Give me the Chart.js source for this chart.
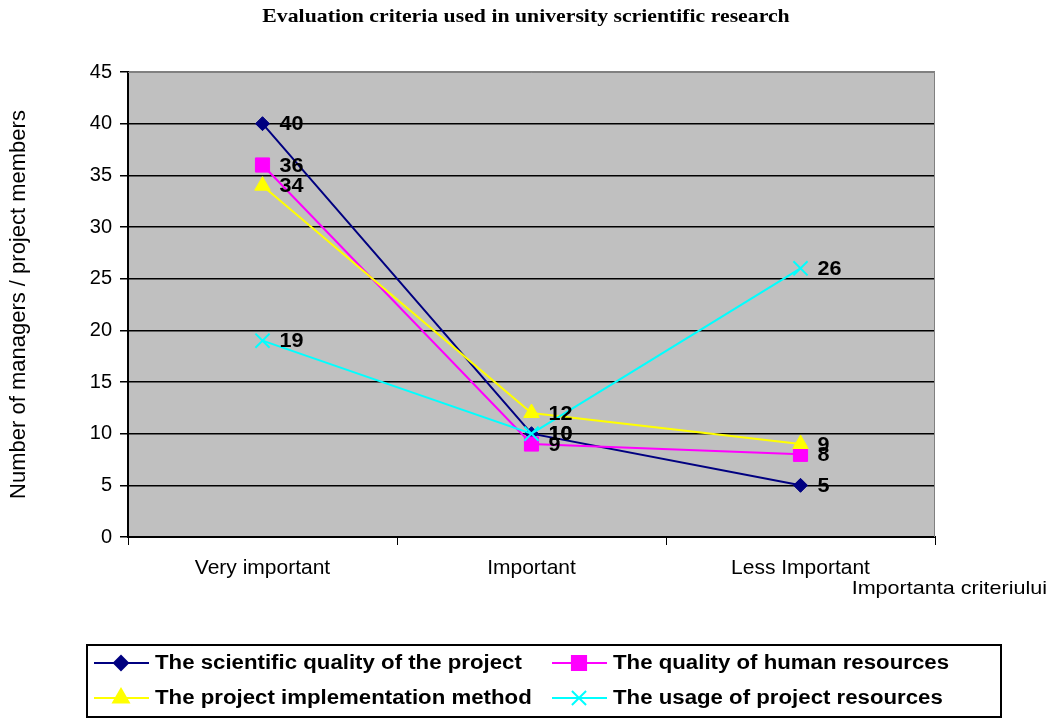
<!DOCTYPE html>
<html>
<head>
<meta charset="utf-8">
<script src="https://cdn.jsdelivr.net/npm/chart.js@4/dist/chart.umd.min.js"></script>
<style>
  html, body { margin: 0; padding: 0; background: #fff; }
  #wrap { width: 1053px; height: 719px; position: relative; }
</style>
</head>
<body>
<div id="wrap"><canvas id="chart" width="1053" height="719"></canvas></div>
<script>
// ---- data ----
const TITLE = 'Evaluation criteria used in university scrientific research';
const Y_TITLE = 'Number of managers / project members';
const X_TITLE = 'Importanta criteriului';
const categories = ['Very important', 'Important', 'Less Important'];

const seriesNames = [
    'The scientific quality of the project',
    'The quality of human resources',
    'The project implementation method',
    'The usage of project resources'
];
const scientificQuality = [40, 10, 5];
const humanResources    = [36, 9, 8];
const implMethod        = [34, 12, 9];
const resourceUsage     = [19, 10, 26];

const SANS = '"Liberation Sans", Arial, sans-serif';
const SERIF = '"Liberation Serif", "Times New Roman", serif';

// ---- look of each series ----
const looks = [
    { color: '#000080', point: 'rectRot',  radius: 7 },
    { color: '#FF00FF', point: 'rect',     radius: 10 },
    { color: '#FFFF00', point: 'triangle', radius: 9 },
    { color: '#00FFFF', point: 'crossRot', radius: 10 }
];
const seriesData = [scientificQuality, humanResources, implMethod, resourceUsage];

const datasets = seriesData.map((d, i) => ({
    label: seriesNames[i],
    data: d,
    borderColor: looks[i].color,
    backgroundColor: looks[i].color,
    borderWidth: 2,
    pointStyle: looks[i].point,
    pointRadius: looks[i].radius,
    pointHoverRadius: looks[i].radius,
    pointBorderWidth: looks[i].point === 'crossRot' ? 2 : 1,
    tension: 0,
    order: 3 - i   // later series drawn on top, like the original
}));

// the original text is rendered a bit wider than Arial, stretch it a little
function wideText(ctx, text, x, y, sx, align) {
    ctx.save();
    ctx.translate(x, y);
    ctx.scale(sx, 1);
    ctx.textAlign = align;
    ctx.fillText(text, 0, 0);
    ctx.restore();
}

// gray plot background + gray top/right frame
const plotBg = {
    id: 'plotBg',
    beforeDraw(chart) {
        const { ctx, chartArea: a } = chart;
        ctx.save();
        ctx.fillStyle = '#C0C0C0';
        ctx.fillRect(a.left, a.top, a.right - a.left, a.bottom - a.top);
        ctx.restore();
    },
    beforeDatasetsDraw(chart) {
        const { ctx, chartArea: a } = chart;
        ctx.save();
        ctx.strokeStyle = '#808080';
        ctx.lineWidth = 1;
        ctx.beginPath();
        ctx.moveTo(a.left, a.top + 0.5);
        ctx.lineTo(a.right - 0.5, a.top + 0.5);
        ctx.lineTo(a.right - 0.5, a.bottom);
        ctx.stroke();
        ctx.restore();
    }
};

// value labels, title, x title, legend box
const extras = {
    id: 'extras',
    afterDatasetsDraw(chart) {
        const ctx = chart.ctx;
        ctx.save();
        ctx.fillStyle = '#000';
        ctx.font = 'bold 20px ' + SANS;
        ctx.textBaseline = 'middle';
        chart.data.datasets.forEach((ds, i) => {
            chart.getDatasetMeta(i).data.forEach((pt, j) => {
                wideText(ctx, String(ds.data[j]), pt.x + 17, pt.y + 1, 1.08, 'left');
            });
        });
        ctx.restore();
    },
    afterDraw(chart) {
        const ctx = chart.ctx;
        ctx.save();
        ctx.fillStyle = '#000';
        ctx.textBaseline = 'middle';

        ctx.font = 'bold 19px ' + SERIF;
        wideText(ctx, TITLE, 526, 17, 1.145, 'center');

        ctx.font = '19px ' + SANS;
        wideText(ctx, X_TITLE, 1047, 589, 1.135, 'right');

        // legend
        ctx.strokeStyle = '#000';
        ctx.lineWidth = 2;
        ctx.strokeRect(87, 645, 914, 72);
        const cols = [94, 552];
        const rows = [663, 698];
        ctx.font = 'bold 19.5px ' + SANS;
        looks.forEach((lk, i) => {
            const x = cols[i % 2], y = rows[Math.floor(i / 2)];
            ctx.strokeStyle = lk.color;
            ctx.lineWidth = 2;
            ctx.beginPath();
            ctx.moveTo(x, y);
            ctx.lineTo(x + 55, y);
            ctx.stroke();
            ctx.fillStyle = lk.color;
            Chart.helpers.drawPoint(ctx, {
                pointStyle: lk.point, radius: lk.radius,
                borderWidth: lk.point === 'crossRot' ? 2 : 1, rotation: 0
            }, x + 27, y);
            if (lk.point !== 'crossRot') ctx.fill();
            ctx.fillStyle = '#000';
            wideText(ctx, seriesNames[i], x + 61, y + 1, 1.14, 'left');
        });
        ctx.restore();
    }
};

new Chart(document.getElementById('chart'), {
    type: 'line',
    data: { labels: categories, datasets: datasets },
    plugins: [plotBg, extras],
    options: {
        responsive: false,
        animation: false,
        layout: { padding: { left: 0, top: 72, right: 118, bottom: 0 } },
        plugins: {
            legend: { display: false },
            title: { display: false },
            tooltip: { enabled: false }
        },
        scales: {
            x: {
                offset: true,
                afterFit(scale) { scale.height = 182; },
                grid: {
                    offset: true,
                    drawOnChartArea: false,
                    tickLength: 8,
                    color: '#000',
                    lineWidth: 1
                },
                border: { color: '#000', width: 2 },
                ticks: {
                    color: '#000',
                    padding: 11,
                    font: { family: SANS, size: 21 },
                    maxRotation: 0
                }
            },
            y: {
                min: 0,
                max: 45,
                afterFit(scale) { scale.width = 128; },
                ticks: {
                    stepSize: 5,
                    color: '#000',
                    padding: 8,
                    font: { family: SANS, size: 20 }
                },
                grid: {
                    color: c => c.tick && c.tick.value === 45 ? '#808080' : '#000',
                    tickColor: '#000',
                    tickLength: 8,
                    lineWidth: 1.5
                },
                border: { color: '#000', width: 2 },
                title: {
                    display: true,
                    text: Y_TITLE,
                    color: '#000',
                    padding: { top: 6, bottom: 0 },
                    font: { family: SANS, size: 22 }
                }
            }
        }
    }
});
</script>
</body>
</html>
